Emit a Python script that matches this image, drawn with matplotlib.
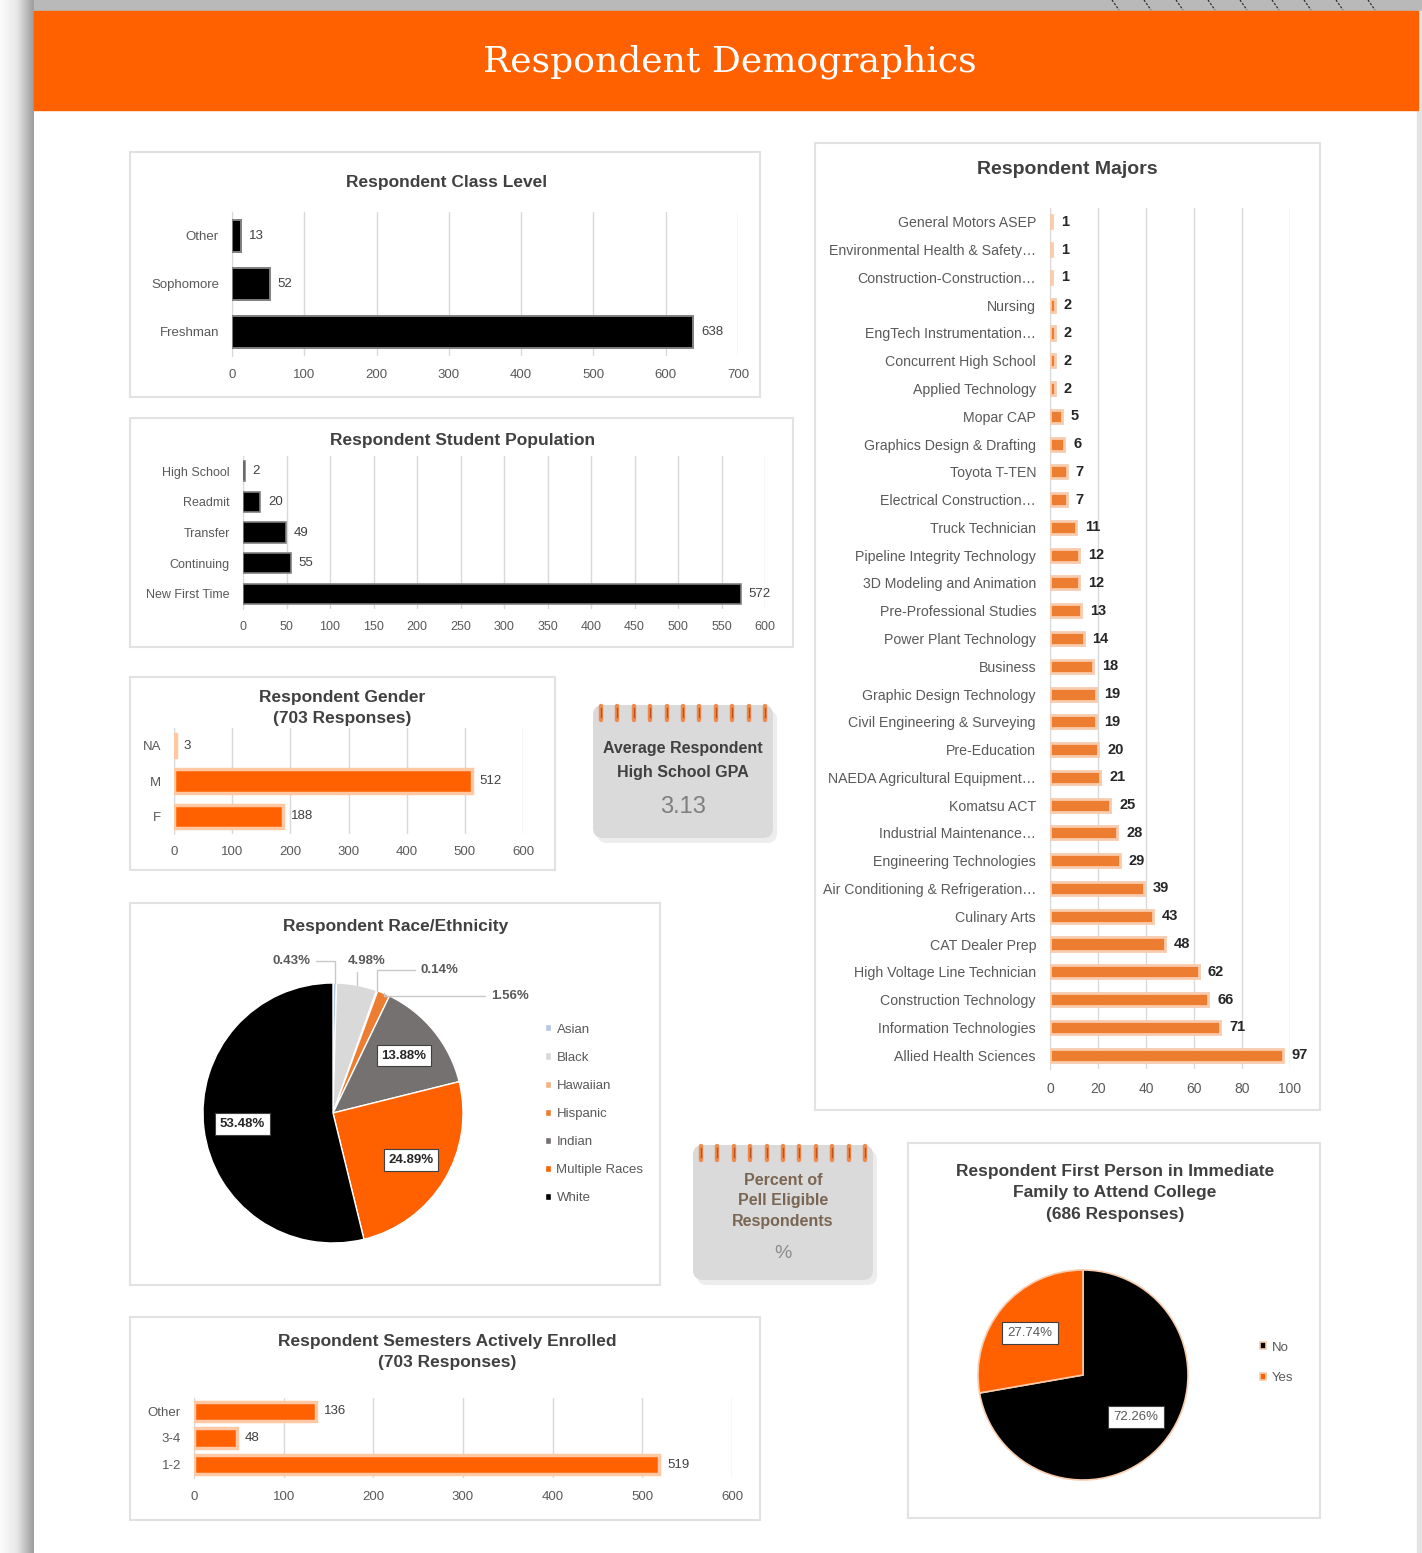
import matplotlib
matplotlib.use("Agg")
import matplotlib.pyplot as plt
import numpy as np
from matplotlib.patches import FancyBboxPatch, Rectangle
from matplotlib.colors import LinearSegmentedColormap

plt.rcParams['font.family'] = ['Liberation Sans', 'DejaVu Sans']

# ---------------- data ----------------
class_labels = ["Other", "Sophomore", "Freshman"]
class_counts = [13, 52, 638]

pop_labels = ["High School", "Readmit", "Transfer", "Continuing", "New First Time"]
pop_counts = [2, 20, 49, 55, 572]

gender_labels = ["NA", "M", "F"]
gender_counts = [3, 512, 188]

race_labels = ["Asian", "Black", "Hawaiian", "Hispanic", "Indian", "Multiple Races", "White"]
race_pct = [0.43, 4.98, 0.14, 1.56, 13.88, 24.89, 53.48]

semester_labels = ["Other", "3-4", "1-2"]
semester_counts = [136, 48, 519]

major_labels = ["General Motors ASEP", "Environmental Health & Safety…", "Construction-Construction…",
                "Nursing", "EngTech Instrumentation…", "Concurrent High School", "Applied Technology",
                "Mopar CAP", "Graphics Design & Drafting", "Toyota T-TEN", "Electrical Construction…",
                "Truck Technician", "Pipeline Integrity Technology", "3D Modeling and Animation",
                "Pre-Professional Studies", "Power Plant Technology", "Business",
                "Graphic Design Technology", "Civil Engineering & Surveying", "Pre-Education",
                "NAEDA Agricultural Equipment…", "Komatsu ACT", "Industrial Maintenance…",
                "Engineering Technologies", "Air Conditioning & Refrigeration…", "Culinary Arts",
                "CAT Dealer Prep", "High Voltage Line Technician", "Construction Technology",
                "Information Technologies", "Allied Health Sciences"]
major_counts = [1, 1, 1, 2, 2, 2, 2, 5, 6, 7, 7, 11, 12, 12, 13, 14, 18, 19, 19, 20, 21, 25, 28,
                29, 39, 43, 48, 62, 66, 71, 97]

firstgen_labels = ["No", "Yes"]
firstgen_pct = [72.26, 27.74]

avg_gpa = "3.13"

# ---------------- layout helpers ----------------
W, H = 1422, 1553
PT = 72.0 / 100.0  # points per pixel

fig = plt.figure(figsize=(W / 100, H / 100), dpi=100)
fig.patch.set_facecolor("white")


def frac(x0, y0, x1, y1):
    return [x0 / W, 1 - y1 / H, (x1 - x0) / W, (y1 - y0) / H]


bg = fig.add_axes([0, 0, 1, 1])
bg.set_xlim(0, W)
bg.set_ylim(H, 0)
bg.axis("off")

# page shadow on left and top strip
shade = LinearSegmentedColormap.from_list("sh", ["#FCFCFC", "#E8E8E8", "#9C9C9C"])
bg.imshow(np.linspace(0, 1, 64).reshape(1, -1), extent=[0, 34, H, 0], cmap=shade, aspect="auto", zorder=0)
bg.add_patch(Rectangle((34, 0), W - 34, 11, color="#B9B9B9", zorder=0))
for xx in np.arange(1112, 1400, 32):
    bg.plot([xx, xx + 7], [0, 10], color="#222222", lw=0.8, ls=(0, (2, 1.5)), zorder=1)
bg.add_patch(Rectangle((1417, 11), 5, H, color="#E3E3E3", zorder=0))

# header
bg.add_patch(Rectangle((34, 11), 1384, 99, color="#FF6000", zorder=1))
bg.text(730, 62, "Respondent Demographics", color="white", fontsize=26, ha="center", va="center",
        family=["DejaVu Serif"], zorder=2)


def card(x0, y0, x1, y1):
    bg.add_patch(Rectangle((x0, y0), x1 - x0, y1 - y0, facecolor="white", edgecolor="#E2E2E2",
                           lw=1.5, zorder=1))


def title(x, y, s, fs=12.5):
    bg.text(x, y, s, ha="center", va="center", fontsize=fs, fontweight="bold", color="#404040",
            linespacing=1.55, zorder=3)


def hbar(box, cats, vals, xmax, step, color, edge, lw, height, cat_fs=9.5, val_fs=9.5,
         val_weight="normal", val_color="#404040", tick_fs=9.5, xpad=14, ypad=13, gap=8):
    ax = fig.add_axes(frac(*box))
    y = np.arange(len(cats))
    ax.barh(y, vals, height=height, color=color, edgecolor=edge, linewidth=lw, zorder=3)
    ax.set_ylim(len(cats) - 0.5, -0.5)
    ax.set_xlim(0, xmax)
    ax.set_xticks(np.arange(0, xmax + 1, step))
    ax.set_yticks(y)
    ax.set_yticklabels(cats)
    ax.xaxis.grid(True, color="#D9D9D9", lw=1, zorder=0)
    ax.set_axisbelow(True)
    for s in ["top", "right", "bottom"]:
        ax.spines[s].set_visible(False)
    ax.spines["left"].set_color("#D9D9D9")
    ax.tick_params(axis="x", length=0, labelsize=tick_fs, labelcolor="#595959", pad=xpad * PT)
    ax.tick_params(axis="y", length=0, labelsize=cat_fs, labelcolor="#595959", pad=ypad * PT)
    ax.patch.set_alpha(0)
    for i, v in enumerate(vals):
        ax.annotate(str(v), (v, i), xytext=(gap * PT, 0), textcoords="offset points", va="center",
                    ha="left", fontsize=val_fs, fontweight=val_weight, color=val_color, zorder=4)
    return ax


# ---------------- Class level ----------------
card(130, 152, 760, 397)
title(447, 182, "Respondent Class Level")
hbar((232, 212, 738, 356), class_labels, class_counts, 700, 100, "#000000", "#808080", 1.4, 0.66,
     xpad=13)

# ---------------- Student population ----------------
card(130, 418, 793, 647)
title(463, 440, "Respondent Student Population")
hbar((243, 456, 765, 609), pop_labels, pop_counts, 600, 50, "#000000", "#808080", 1.2, 0.66,
     cat_fs=9, tick_fs=9, xpad=12)

# ---------------- Gender ----------------
card(130, 677, 555, 870)
title(342, 708, "Respondent Gender\n(703 Responses)")
hbar((174, 728, 523, 834), gender_labels, gender_counts, 600, 100, "#FF6000", "#FFC8A5", 2.5, 0.66,
     xpad=12)

# ---------------- Semesters ----------------
card(130, 1317, 760, 1520)
title(447, 1352, "Respondent Semesters Actively Enrolled\n(703 Responses)")
hbar((194, 1398, 732, 1478), semester_labels, semester_counts, 600, 100, "#FF6000", "#FFC8A5", 2.5,
     0.72, xpad=13)

# ---------------- Majors ----------------
card(815, 143, 1320, 1110)
title(1067, 170, "Respondent Majors", fs=14)
hbar((1050, 208, 1290, 1069), major_labels, major_counts, 100, 20, "#ED7D31", "#F8CBAD", 2.0, 0.47,
     cat_fs=10.2, val_fs=10.5, val_weight="bold", val_color="#262626", tick_fs=10, xpad=13, ypad=14,
     gap=9)

# ---------------- Race pie ----------------
card(130, 903, 660, 1285)
title(396, 926, "Respondent Race/Ethnicity")
race_colors = ["#B4C7E7", "#D9D9D9", "#F4B183", "#ED7D31", "#767171", "#FF6000", "#000000"]
cx, cy, r = 333, 1113, 130
axr = fig.add_axes(frac(cx - r, cy - r, cx + r, cy + r))
wedges, _ = axr.pie(race_pct, colors=race_colors, startangle=90, counterclock=False, radius=1,
                    wedgeprops=dict(edgecolor="white", linewidth=1.0))
axr.set_xlim(-1, 1)
axr.set_ylim(-1, 1)
outside_pos = [(-0.32, 1.17), (0.26, 1.17), (0.82, 1.10), (1.36, 0.90)]
for i, (w, v) in enumerate(zip(wedges, race_pct)):
    mid = np.deg2rad((w.theta1 + w.theta2) / 2)
    txt = f"{v:.2f}%"
    if i < len(outside_pos):
        axr.annotate(txt, xy=(np.cos(mid), np.sin(mid)), xytext=outside_pos[i], ha="center",
                     va="center", fontsize=9.5, fontweight="bold", color="#595959",
                     arrowprops=dict(arrowstyle="-", color="#C8C8C8", lw=1,
                                     connectionstyle="angle,angleA=0,angleB=90,rad=0",
                                     shrinkA=2, shrinkB=0))
    else:
        axr.text(0.7 * np.cos(mid), 0.7 * np.sin(mid), txt, ha="center", va="center", fontsize=9.5,
                 fontweight="bold", color="#262626",
                 bbox=dict(boxstyle="square,pad=0.35", fc="white", ec="#404040", lw=0.8))
fig.legend(wedges, race_labels, loc="upper left", bbox_to_anchor=(538 / W, 1 - 1017 / H),
           frameon=False, fontsize=9.5, labelcolor="#595959", handlelength=0.45, handleheight=0.45,
           handletextpad=0.45, labelspacing=1.22, borderpad=0)

# ---------------- First generation pie ----------------
card(908, 1143, 1320, 1518)
title(1115, 1193, "Respondent First Person in Immediate\nFamily to Attend College\n(686 Responses)")
fx, fy, fr = 1083, 1375, 105
axf = fig.add_axes(frac(fx - fr, fy - fr, fx + fr, fy + fr))
fw, _ = axf.pie(firstgen_pct, colors=["#000000", "#FF6000"], startangle=90, counterclock=False,
                radius=1, wedgeprops=dict(edgecolor="#F8CBAD", linewidth=1.2))
axf.set_xlim(-1, 1)
axf.set_ylim(-1, 1)
for w, v in zip(fw, firstgen_pct):
    mid = np.deg2rad((w.theta1 + w.theta2) / 2)
    axf.text(0.66 * np.cos(mid), 0.62 * np.sin(mid), f"{v:.2f}%", ha="center", va="center",
             fontsize=9.5, color="#595959",
             bbox=dict(boxstyle="square,pad=0.4", fc="white", ec="#404040", lw=0.8))
fig.legend(fw, firstgen_labels, loc="upper left", bbox_to_anchor=(1253 / W, 1 - 1335 / H),
           frameon=False, fontsize=9.5, labelcolor="#595959", handlelength=0.45, handleheight=0.45,
           handletextpad=0.45, labelspacing=1.4, borderpad=0)


# ---------------- note cards ----------------
def note(x0, y0, x1, y1, nrings):
    bg.add_patch(FancyBboxPatch((x0 + 4, y0 + 5), x1 - x0, y1 - y0,
                                boxstyle="round,pad=0,rounding_size=10", fc="#EDEDED", ec="none",
                                zorder=1))
    bg.add_patch(FancyBboxPatch((x0, y0), x1 - x0, y1 - y0, boxstyle="round,pad=0,rounding_size=10",
                                fc="#DADADA", ec="none", zorder=2))
    xs = np.linspace(x0 + 8, x1 - 8, nrings)
    for xx in xs:
        bg.plot([xx, xx], [y0 + 1, y0 + 15], color="#F08A4B", lw=3.2, solid_capstyle="round", zorder=3)
        bg.plot([xx, xx], [y0 + 3, y0 + 12], color="#C0501A", lw=1.0, zorder=4)


note(593, 705, 773, 838, 11)
bg.text(683, 749, "Average Respondent", ha="center", va="center", fontsize=11.5, fontweight="bold",
        color="#404040", zorder=5)
bg.text(683, 773, "High School GPA", ha="center", va="center", fontsize=11.5, fontweight="bold",
        color="#404040", zorder=5)
bg.text(683, 807, avg_gpa, ha="center", va="center", fontsize=17, color="#7F7F7F", zorder=5)

note(693, 1145, 873, 1280, 11)
bg.text(783, 1201, "Percent of\nPell Eligible\nRespondents", ha="center", va="center", fontsize=11.5,
        fontweight="bold", color="#7A6652", linespacing=1.45, zorder=5)
bg.text(783, 1253, "%", ha="center", va="center", fontsize=14, color="#8C8C8C", zorder=5)

fig.savefig("out.png", dpi=100)
